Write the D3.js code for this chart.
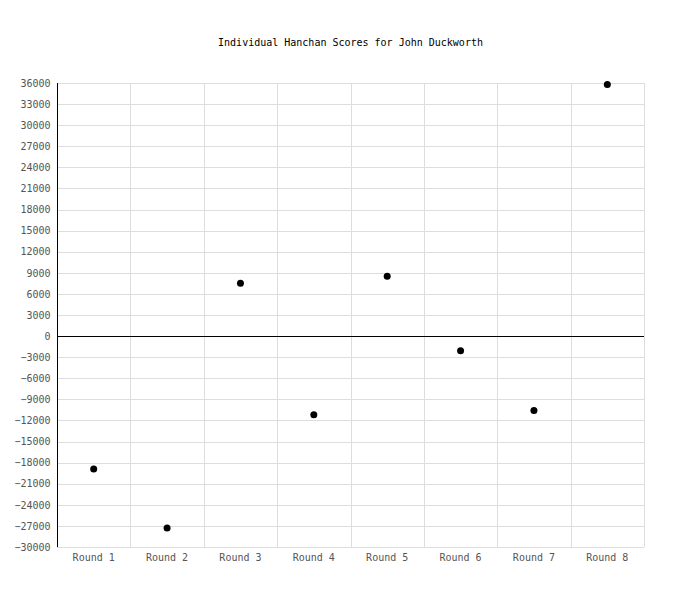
<!DOCTYPE html>
<meta charset="utf-8">
<script src="https://d3js.org/d3.v7.min.js"></script>
<style>
  body { margin: 0; background: #fff; }
  text { font-family: "DejaVu Sans Mono", monospace; }
</style>
<body>
<div id="chart"></div>
<script>
var rounds = ["Round 1", "Round 2", "Round 3", "Round 4", "Round 5", "Round 6", "Round 7", "Round 8"];
var scores = [-18900, -27300, 7500, -11200, 8500, -2100, -10600, 35800];
var yTicks = d3.range(-30000, 36001, 3000);
var title = "Individual Hanchan Scores for John Duckworth";

var margin = {top: 83, right: 56, bottom: 53, left: 57},
    width = 700 - margin.left - margin.right,
    height = 600 - margin.top - margin.bottom;

var svg = d3.select("#chart")
  .append("svg")
    .attr("width", 700)
    .attr("height", 600)
  .append("g")
    .attr("transform", "translate(" + margin.left + "," + margin.top + ")");

var x = d3.scaleBand()
  .domain(rounds)
  .range([0, width]);

var y = d3.scaleLinear()
  .domain([-30000, 36000])
  .range([height, 0]);

// grid
svg.append("g")
  .selectAll("line")
  .data(yTicks)
  .join("line")
    .attr("x1", 0)
    .attr("x2", width)
    .attr("y1", function(d) { return Math.round(y(d)) + 0.5; })
    .attr("y2", function(d) { return Math.round(y(d)) + 0.5; })
    .attr("stroke", "#dddddd");

svg.append("g")
  .selectAll("line")
  .data(rounds.slice(1).concat(["end"]))
  .join("line")
    .attr("x1", function(d, i) { return Math.round(x.step() * (i + 1)) + 0.5; })
    .attr("x2", function(d, i) { return Math.round(x.step() * (i + 1)) + 0.5; })
    .attr("y1", 0)
    .attr("y2", height)
    .attr("stroke", "#dddddd");

// zero line
svg.append("line")
  .attr("x1", 0)
  .attr("x2", width)
  .attr("y1", Math.round(y(0)) + 0.5)
  .attr("y2", Math.round(y(0)) + 0.5)
  .attr("stroke", "#000");

// y axis
var yAxis = svg.append("g")
  .attr("transform", "translate(0.5,0)")
  .call(d3.axisLeft(y).tickValues(yTicks).tickSize(0).tickPadding(7).tickFormat(d3.format("d")));
yAxis.select(".domain").attr("stroke", "#000").attr("d", "M0," + (Math.round(y(36000))) + "V" + Math.round(y(-30000)));
yAxis.selectAll("text")
  .attr("fill", "#555")
  .style("font-size", "10px")
  .style("font-family", "'DejaVu Sans Mono', monospace");

// x axis
var xAxis = svg.append("g")
  .attr("transform", "translate(0," + height + ")")
  .call(d3.axisBottom(x).tickSize(0).tickPadding(7));
xAxis.select(".domain").remove();
xAxis.selectAll("text")
  .attr("fill", "#555")
  .style("font-size", "10px")
  .style("font-family", "'DejaVu Sans Mono', monospace");

// points
svg.append("g")
  .selectAll("circle")
  .data(scores)
  .join("circle")
    .attr("cx", function(d, i) { return x(rounds[i]) + x.bandwidth() / 2; })
    .attr("cy", function(d) { return y(d); })
    .attr("r", 3.5)
    .attr("fill", "#000");

// title
svg.append("text")
  .attr("x", width / 2)
  .attr("y", 46 - margin.top)
  .attr("text-anchor", "middle")
  .style("font-size", "10px")
  .attr("fill", "#000")
  .text(title);
</script>
</body>
